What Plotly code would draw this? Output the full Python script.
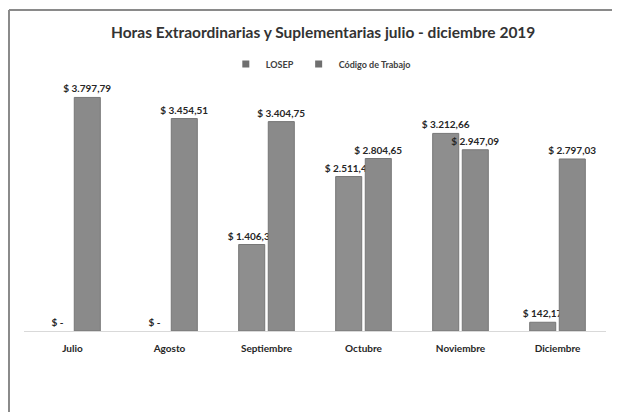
import plotly.graph_objects as go

months = ["Julio", "Agosto", "Septiembre", "Octubre", "Noviembre", "Diciembre"]
losep = [0, 0, 1406.39, 2511.47, 3212.66, 142.17]
codigo = [3797.79, 3454.51, 3404.75, 2804.65, 2947.09, 2797.03]
series_names = ["LOSEP", "Código de Trabajo"]
title_text = "Horas Extraordinarias y Suplementarias julio - diciembre 2019"


def fmt(v):
    if v == 0:
        return "$ -"
    s = f"{v:,.2f}"
    s = s.replace(",", "X").replace(".", ",").replace("X", ".")
    return "$ " + s


FONT = "Lato, Open Sans, sans-serif"
label_font = dict(family=FONT, size=10, color="#262626")
colors = ["#8e8e8e", "#8a8a8a"]

fig = go.Figure()
for name, vals, col in zip(series_names, [losep, codigo], colors):
    fig.add_trace(go.Bar(
        x=months, y=vals, name=name, showlegend=False,
        marker=dict(color=col, line=dict(color="#777777", width=[1 if v else 0 for v in vals])),
        text=[fmt(v) for v in vals], textposition="outside",
        texttemplate="<b>%{text}</b>", constraintext="none",
        textfont=label_font, cliponaxis=False,
    ))
# legend entries
for name, col in zip(series_names, colors):
    fig.add_trace(go.Scatter(
        x=[None], y=[None], mode="markers", name="<b>" + name + "</b>",
        marker=dict(symbol="square", size=7, color="#6f6f6f"),
    ))

# border frame (scanned chart area)
fig.add_shape(type="line", xref="paper", yref="paper",
              x0=-0.0258, x1=1.018, y0=1.305, y1=1.305,
              line=dict(color="#8a8a8a", width=2))
fig.add_shape(type="line", xref="paper", yref="paper",
              x0=-0.0258, x1=-0.0258, y0=1.305, y1=-0.40,
              line=dict(color="#8a8a8a", width=2))

fig.update_layout(
    width=612, height=404,
    margin=dict(l=16, r=14, t=77, b=81),
    paper_bgcolor="white", plot_bgcolor="white",
    barmode="group", bargap=0.39, bargroupgap=0.12,
    title=dict(text="<b>" + title_text + "</b>", x=0.515, xanchor="center",
               y=1 - 25 / 404, yanchor="middle",
               font=dict(family=FONT, size=15.5, color="#333333")),
    legend=dict(orientation="h", x=0.51, xanchor="center", y=1.085, yanchor="middle",
                font=dict(family=FONT, size=9, color="#404040"),
                itemwidth=30, traceorder="normal"),
    xaxis=dict(showline=True, linecolor="#d9d9d9", linewidth=1, ticks="",
               tickprefix="<b>", ticksuffix="</b>", ticklabelstandoff=8,
               tickfont=dict(family=FONT, size=10, color="#262626"),
               showgrid=False, fixedrange=True),
    yaxis=dict(range=[0, 4000], visible=False, showgrid=False, fixedrange=True),
    showlegend=True,
)

fig.write_html("out.html", config={"displayModeBar": False})
